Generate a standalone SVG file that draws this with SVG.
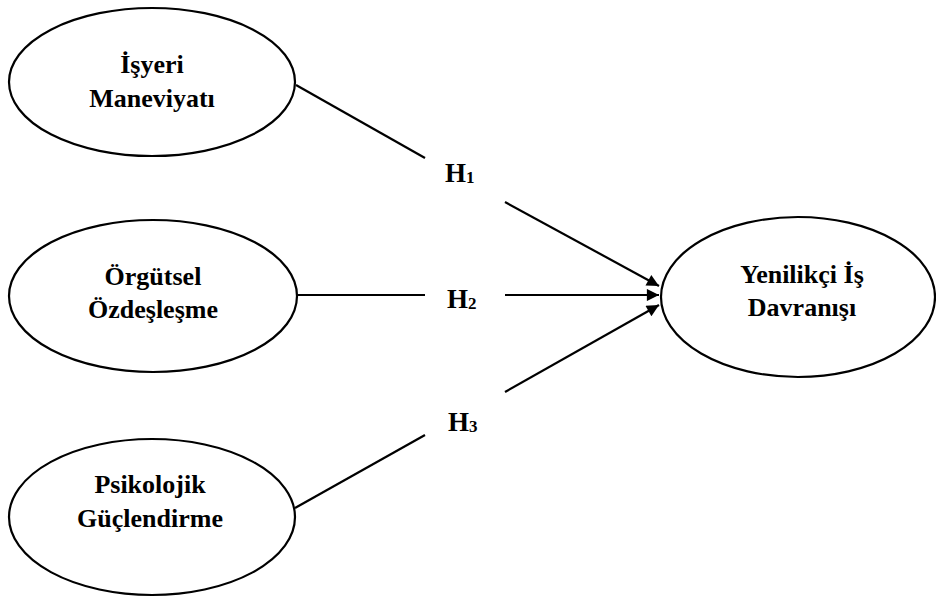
<svg xmlns="http://www.w3.org/2000/svg" width="936" height="599" viewBox="0 0 936 599">
<style>
.node ellipse{fill:#fff;stroke:#000;stroke-width:2.2}
.t{font-family:"Liberation Serif","Times New Roman",serif;font-weight:bold;font-size:26px;fill:#000;text-anchor:middle}
.h{font-family:"Liberation Serif","Times New Roman",serif;font-weight:bold;font-size:27px;fill:#000}
.sub{font-size:17px}
#connectors line{stroke:#000;stroke-width:2.2}
</style>
<defs>
<marker id="arr" viewBox="0 0 10 10" refX="10" refY="5" markerWidth="7.3" markerHeight="5.5" orient="auto" markerUnits="strokeWidth">
<path d="M0,0 L10,5 L0,10 z" fill="#000"/>
</marker>
</defs>
<rect width="936" height="599" fill="#fff"/>
<g id="connectors">
<line x1="296" y1="85" x2="425" y2="158"/>
<line x1="505" y1="202" x2="659" y2="286" marker-end="url(#arr)"/>
<line x1="298" y1="295" x2="425" y2="295"/>
<line x1="505" y1="295" x2="659" y2="295" marker-end="url(#arr)"/>
<line x1="505" y1="392" x2="659" y2="305" marker-end="url(#arr)"/>
<line x1="425" y1="435" x2="295" y2="508"/>
</g>
<g id="labels">
<text class="h" x="445" y="182">H<tspan class="sub" dy="1">1</tspan></text>
<text class="h" x="447" y="308">H<tspan class="sub" dy="1">2</tspan></text>
<text class="h" x="448" y="431">H<tspan class="sub" dy="1">3</tspan></text>
</g>
<g id="n1" class="node">
<ellipse cx="152" cy="82" rx="143" ry="74"/>
<text class="t" x="152" y="73">İşyeri</text>
<text class="t" x="152" y="107">Maneviyatı</text>
</g>
<g id="n2" class="node">
<ellipse cx="153" cy="296" rx="144" ry="76"/>
<text class="t" x="153" y="285">Örgütsel</text>
<text class="t" x="153" y="318">Özdeşleşme</text>
</g>
<g id="n3" class="node">
<ellipse cx="152" cy="517" rx="143" ry="78"/>
<text class="t" x="150" y="493">Psikolojik</text>
<text class="t" x="150" y="527">Güçlendirme</text>
</g>
<g id="n4" class="node">
<ellipse cx="798" cy="297" rx="137" ry="80"/>
<text class="t" x="802" y="283">Yenilikçi İş</text>
<text class="t" x="802" y="316">Davranışı</text>
</g>
</svg>
